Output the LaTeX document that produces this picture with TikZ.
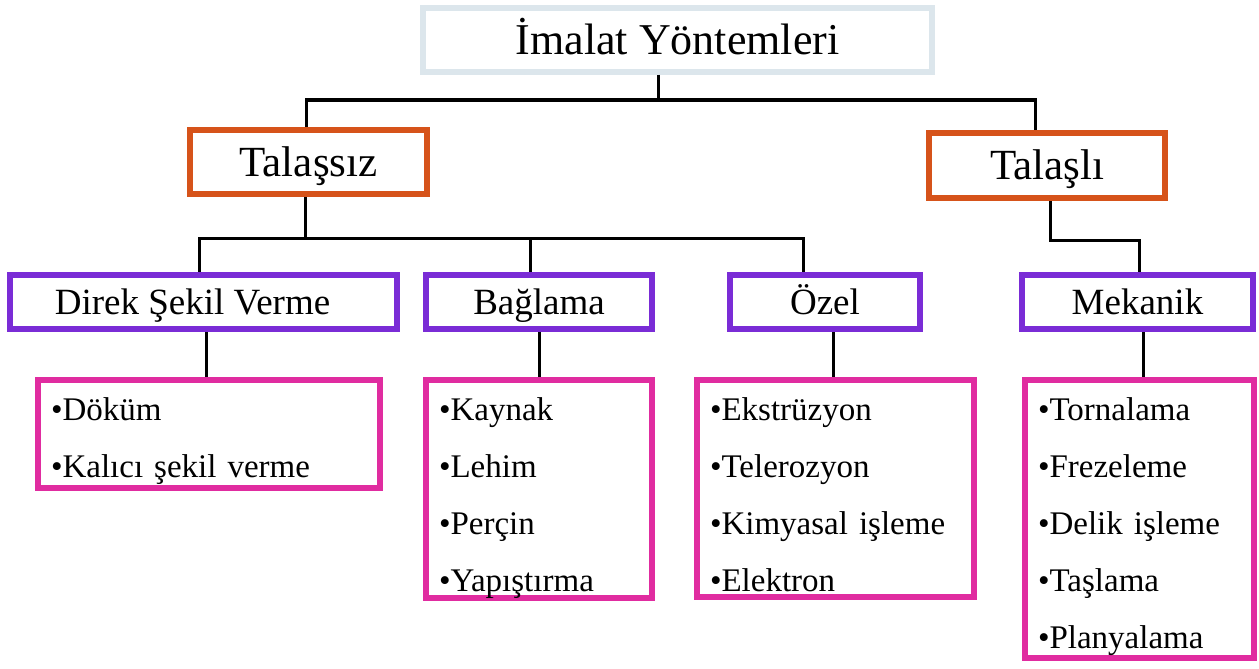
\documentclass[tikz,border=0pt]{standalone}
\usepackage{fontspec}
\setmainfont{Liberation Serif}
\usetikzlibrary{positioning}

\definecolor{kokgri}{RGB}{220,230,236}
\definecolor{turuncu}{RGB}{214,83,26}
\definecolor{mor}{RGB}{122,44,214}
\definecolor{pembe}{RGB}{224,44,160}

\begin{document}
\begin{tikzpicture}[x=1pt,y=-1pt,
	kok/.style={draw=kokgri, font=\fontsize{44}{52}\selectfont, text height=29pt, text depth=0pt},
	ana/.style={draw=turuncu, font=\fontsize{43}{50}\selectfont, text height=28.4pt, text depth=0pt},
	alt/.style={draw=mor, font=\fontsize{37}{44}\selectfont, text height=24.5pt, text depth=0pt, minimum height=54pt},
	liste/.style={draw=pembe, anchor=north west, align=left, inner xsep=13pt, inner ysep=0pt, text height=40pt, font=\fontsize{33}{57}\selectfont}]

			\useasboundingbox (0,0) rectangle (1259,669);

			\begin{scope}[every node/.style={rectangle, line width=6pt, inner sep=0pt}]
				\node[kok, minimum width=509pt, minimum height=64pt] (imalat) at (677.5,40) {İmalat Yöntemleri};
				\node[ana, minimum width=237pt, minimum height=64pt] (talassiz) at (308.5,162) {Talaşsız};
				\node[ana, minimum width=236pt, minimum height=65pt] (talasli) at (1047,165.5) {Talaşlı};
				\node[alt, minimum width=387pt] (direk) at (203.5,302) {\hspace*{-22pt}Direk Şekil Verme};
				\node[alt, minimum width=226pt] (baglama) at (539,302) {Bağlama};
				\node[alt, minimum width=190pt] (ozel) at (825,302) {Özel};
				\node[alt, minimum width=231pt] (mekanik) at (1137.5,302) {Mekanik};
				\node[liste, text width=316pt, text depth=68pt] (dokum) at (35,377) {•Döküm\\•Kalıcı şekil verme};
				\node[liste, text width=200pt, text depth=178pt] (kaynak) at (423,377) {•Kaynak\\•Lehim\\•Perçin\\•Yapıştırma};
				\node[liste, text width=251pt, text depth=177pt] (ekstruzyon) at (694,377) {•Ekstrüzyon\\•Telerozyon\\•Kimyasal işleme\\•Elektron};
				\node[liste, text width=203pt, text depth=238pt] (tornalama) at (1022,377) {•Tornalama\\•Frezeleme\\•Delik işleme\\•Taşlama\\•Planyalama};
			\end{scope}

			\begin{scope}[line width=3pt]
				\draw ([xshift=-19.5]imalat.south) -- ++(0,25) -| ([xshift=-2.5]talassiz.north);
				\draw ([xshift=-19.5]imalat.south) -- ++(0,25) -| ([xshift=-12]talasli.north);
				\draw ([xshift=-3.5]talassiz.south) -- ++(0,41) -| ([xshift=-4.5]direk.north);
				\draw ([xshift=-3.5]talassiz.south) -- ++(0,41) -| ([xshift=-9]baglama.north);
				\draw ([xshift=-3.5]talassiz.south) -- ++(0,41) -| ([xshift=-22]ozel.north);
				\draw ([xshift=3]talasli.south) -- ++(0,39) -| ([xshift=1.5]mekanik.north);
				\draw ([xshift=2.5]direk.south) -- ([xshift=2.5]direk.south |- dokum.north);
				\draw (baglama.south) -- (baglama.south |- kaynak.north);
				\draw ([xshift=8]ozel.south) -- ([xshift=8]ozel.south |- ekstruzyon.north);
				\draw ([xshift=5.5]mekanik.south) -- ([xshift=5.5]mekanik.south |- tornalama.north);
			\end{scope}
		\end{tikzpicture}
\end{document}
